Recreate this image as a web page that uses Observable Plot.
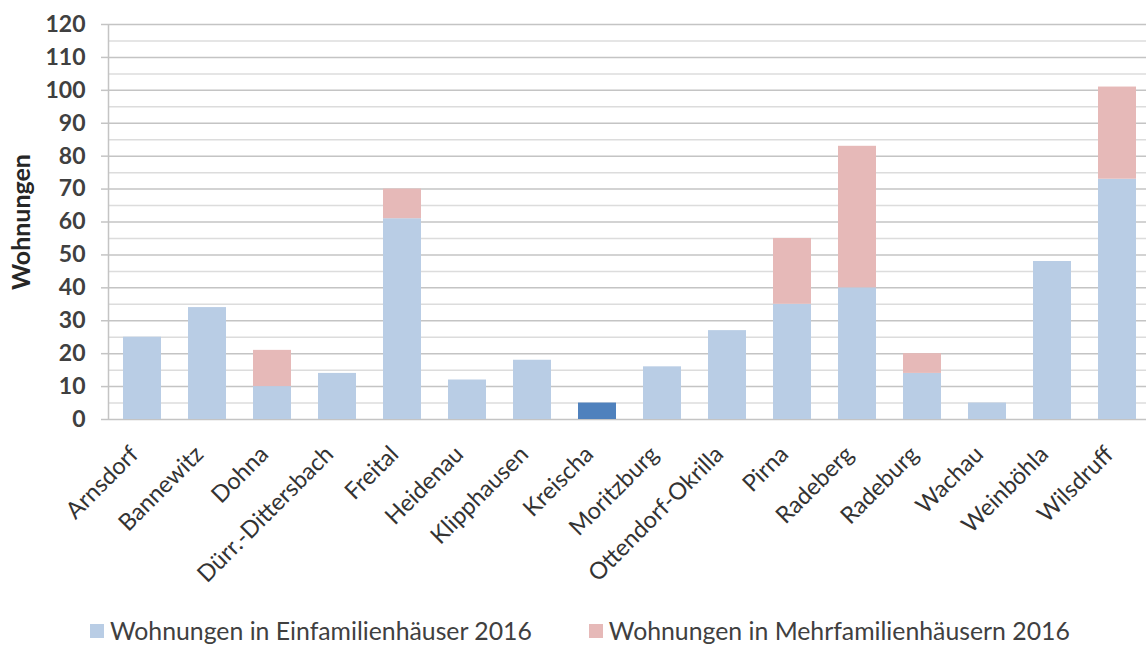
<!DOCTYPE html>
<html lang="de">
<head>
<meta charset="utf-8">
<script src="https://cdn.jsdelivr.net/npm/d3@7"></script>
<script src="https://cdn.jsdelivr.net/npm/@observablehq/plot@0.6"></script>
<style>
  html, body { margin: 0; padding: 0; background: #fff; }
  body { width: 1146px; height: 646px; overflow: hidden; font-family: Lato, "Open Sans", sans-serif; }
  #legend { display: flex; align-items: center; height: 31px; padding-left: 90px; color: #404040; font-size: 24.8px; }
  #legend .item { display: flex; align-items: center; }
  #legend .item + .item { margin-left: 57px; }
  #legend .sw { width: 14px; height: 14px; margin-right: 6px; }
</style>
</head>
<body>
<div id="chart"></div>
<div id="legend"></div>
<script>
// Gemeinden im Landkreis Sächsische Schweiz-Osterzgebirge / Meißen
const orte = [
  "Arnsdorf", "Bannewitz", "Dohna", "Dürr.-Dittersbach", "Freital", "Heidenau",
  "Klipphausen", "Kreischa", "Moritzburg", "Ottendorf-Okrilla", "Pirna", "Radeberg",
  "Radeburg", "Wachau", "Weinböhla", "Wilsdruff"
];
// Wohnungen in Einfamilienhäusern 2016
const einfamilien = [25, 34, 10, 14, 61, 12, 18, 5, 16, 27, 35, 40, 14, 5, 48, 73];
// Wohnungen in Mehrfamilienhäusern 2016
const mehrfamilien = [0, 0, 11, 0, 9, 0, 0, 0, 0, 0, 20, 43, 6, 0, 0, 28];

const serien = ["Wohnungen in Einfamilienhäuser 2016", "Wohnungen in Mehrfamilienhäusern 2016"];
const hervorgehoben = "Kreischa";
const yTicks = d3.range(0, 121, 10);
const yMinor = d3.range(5, 120, 10);

const farben = {
  [serien[0]]: "#b9cde5",
  [serien[1]]: "#e6b9b8",
  hervorgehoben: "#4f81bd"
};

const rows = [];
orte.forEach((ort, i) => {
  rows.push({ort, serie: serien[0], wert: einfamilien[i]});
  rows.push({ort, serie: serien[1], wert: mehrfamilien[i]});
});

const W = 1146, H = 615;
const mLeft = 109, mTop = 24, mBottom = 196;

// vertical axis line along the left edge of the plotting area
const achsenlinie = (index, scales, values, dims) => {
  const g = d3.create("svg:line")
    .attr("x1", dims.marginLeft - 0.5).attr("x2", dims.marginLeft - 0.5)
    .attr("y1", dims.marginTop).attr("y2", dims.height - dims.marginBottom)
    .attr("stroke", "#c4c4c4").attr("stroke-width", 1.5);
  return g.node();
};

const plot = Plot.plot({
  width: W,
  height: H,
  marginLeft: mLeft,
  marginRight: 0,
  marginTop: mTop,
  marginBottom: mBottom,
  style: {fontFamily: "Lato, 'Open Sans', sans-serif", color: "#404040", background: "#fff"},
  x: {domain: orte, range: [mLeft + 0.5, W + 4.5], paddingInner: 0.41, paddingOuter: 0.205, label: null},
  y: {domain: [0, 120], label: null},
  color: {
    domain: [...serien, "hervorgehoben"],
    range: [farben[serien[0]], farben[serien[1]], farben.hervorgehoben]
  },
  marks: [
    Plot.ruleY(yMinor, {stroke: "#dcdcdc", strokeWidth: 1.5}),
    Plot.ruleY(yTicks, {stroke: "#c4c4c4", strokeWidth: 1.5}),
    achsenlinie,
    Plot.axisY({
      ticks: yTicks, tickSize: 8, tickPadding: 16, stroke: "#c4c4c4", strokeWidth: 1.5,
      fontSize: 23, fontWeight: "bold", fill: "#404040",
      label: "Wohnungen", labelAnchor: "center", labelArrow: "none", labelOffset: 97
    }),
    Plot.axisX({
      tickSize: 0, tickRotate: -45, tickPadding: 31, dx: -8, fontSize: 23.5, fill: "#333", label: null
    }),
    Plot.barY(rows, {
      x: "ort",
      y: "wert",
      fill: d => (d.ort === hervorgehoben && d.serie === serien[0]) ? "hervorgehoben" : d.serie
    })
  ]
});

// y-axis title styling
d3.select(plot).selectAll("g[aria-label='y-axis label'] text")
  .attr("font-size", 25).attr("font-weight", "bold").attr("fill", "#262626");

document.getElementById("chart").append(plot);

const legend = d3.select("#legend");
serien.forEach(s => {
  const item = legend.append("div").attr("class", "item");
  item.append("div").attr("class", "sw").style("background", farben[s]);
  item.append("span").text(s);
});
</script>
</body>
</html>
